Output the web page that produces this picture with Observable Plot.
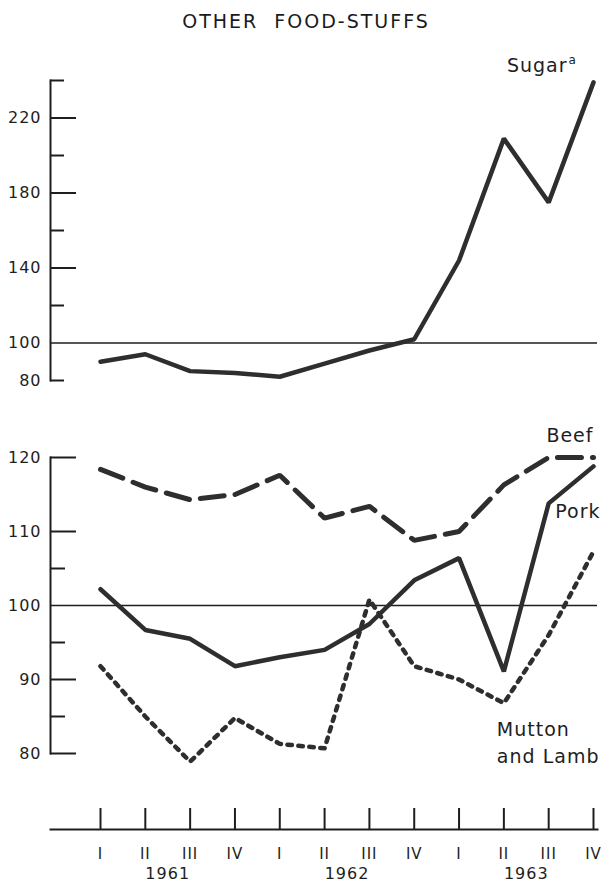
<!DOCTYPE html>
<html><head><meta charset="utf-8">
<script src="https://cdn.jsdelivr.net/npm/d3@7"></script>
<script src="https://cdn.jsdelivr.net/npm/@observablehq/plot@0.6"></script>
<style>
body{margin:0;background:#fff;}
#wrap{position:relative;width:608px;height:884px;font-family:"DejaVu Sans",sans-serif;color:#1a1a1a;overflow:hidden;}
#title{position:absolute;left:0;top:10px;width:612px;text-align:center;font-size:19px;letter-spacing:2px;white-space:pre;}
.panel{position:absolute;left:0;}
.panel svg{overflow:visible;}
</style></head><body>
<div id="wrap"><div id="title">OTHER  FOOD-STUFFS</div></div>
<script>
// ---- data ----
const quarters = ["I","II","III","IV","I","II","III","IV","I","II","III","IV"];
const years = ["1961","1962","1963"];
const sugar  = [90, 94, 85, 84, 82, 89, 96, 102, 144, 209, 175, 239];
const beef   = [118.4, 116.0, 114.3, 115.0, 117.6, 111.8, 113.4, 108.8, 110.0, 116.3, 120.0, 120.0];
const pork   = [102.2, 96.7, 95.5, 91.8, 93.0, 94.0, 97.5, 103.4, 106.4, 91.1, 113.8, 118.8];
const mutton = [91.8, 85.0, 78.9, 84.8, 81.3, 80.7, 100.8, 91.8, 90.0, 86.8, 96.0, 107.3];
const sugarMajorTicks = [220, 180, 140];
const sugarMinorTicks = [240, 200, 160, 120, 80];
const sugarTickLabels = [220, 180, 140, 100, 80];
const meatMajorTicks = [120, 110, 90, 80];
const meatMinorTicks = [105, 95, 85];
const meatTickLabels = [120, 110, 100, 90, 80];

// ---- tables ----
const idx = d3.range(quarters.length);
const rows = arr => idx.map(i => ({i, v: arr[i]}));
const sugarData = rows(sugar), beefData = rows(beef), porkData = rows(pork), muttonData = rows(mutton);
const yearData = years.map((y, k) => ({year: y, i: 4 * k + 1.5}));

const ink = "#1e1e1e", lineInk = "#2e2e2e";
const xScale = {domain: [0, quarters.length - 1], insetLeft: 50, insetRight: 4, axis: null};
const common = {
  width: 608, marginLeft: 50, marginRight: 11,
  style: {fontFamily: "DejaVu Sans, sans-serif", fontSize: "16px", background: "transparent", color: ink, letterSpacing: "1px"}
};
function place(svg, top) {
  const d = document.createElement("div");
  d.className = "panel"; d.style.top = top + "px";
  d.appendChild(svg);
  document.getElementById("wrap").appendChild(d);
}

// ---- top panel: Sugar ----
const topPlot = Plot.plot({
  ...common, height: 340, marginTop: 30, marginBottom: 10,
  x: xScale, y: {domain: [80, 240], axis: null},
  marks: [
    Plot.frame({anchor: "left", stroke: ink, strokeWidth: 2}),
    Plot.ruleY([100], {stroke: ink, strokeWidth: 1.6}),
    Plot.axisY({ticks: sugarMajorTicks, tickSize: -26, fill: "none", stroke: ink, strokeWidth: 2, label: null}),
    Plot.axisY({ticks: sugarMinorTicks, tickSize: -14, fill: "none", stroke: ink, strokeWidth: 2, label: null}),
    Plot.axisY({ticks: sugarTickLabels, tickSize: 0, tickPadding: 9, fill: ink, fontSize: 16, label: null}),
    Plot.line(sugarData, {x: "i", y: "v", stroke: lineInk, strokeWidth: 4.5, strokeLinejoin: "miter"}),
    Plot.text([sugarData[sugarData.length - 1]], {x: "i", y: "v", text: () => "Sugar", textAnchor: "end", dx: -26, dy: -16, fontSize: 19, fill: ink}),
    Plot.text([sugarData[sugarData.length - 1]], {x: "i", y: "v", text: () => "a", textAnchor: "start", dx: -25, dy: -22, fontSize: 12, fill: ink})
  ]
});
place(topPlot, 50);

// ---- bottom panel: Beef, Pork, Mutton and Lamb ----
const last = beefData.length - 1;
const botPlot = Plot.plot({
  ...common, height: 400, marginTop: 67, marginBottom: 37,
  x: xScale, y: {domain: [80, 120], axis: null},
  marks: [
    Plot.frame({anchor: "left", stroke: ink, strokeWidth: 2}),
    Plot.ruleY([100], {stroke: ink, strokeWidth: 1.6}),
    Plot.axisY({ticks: meatMajorTicks, tickSize: -26, fill: "none", stroke: ink, strokeWidth: 2, label: null}),
    Plot.axisY({ticks: meatMinorTicks, tickSize: -15, fill: "none", stroke: ink, strokeWidth: 2, label: null}),
    Plot.axisY({ticks: meatTickLabels, tickSize: 0, tickPadding: 9, fill: ink, fontSize: 16, label: null}),
    Plot.line(beefData, {x: "i", y: "v", stroke: lineInk, strokeWidth: 5, strokeDasharray: "24 11", strokeLinejoin: "miter"}),
    Plot.line(porkData, {x: "i", y: "v", stroke: lineInk, strokeWidth: 4.5, strokeLinejoin: "miter"}),
    Plot.line(muttonData, {x: "i", y: "v", stroke: lineInk, strokeWidth: 4.5, strokeDasharray: "4.5 6.5"}),
    Plot.text([beefData[last]], {x: "i", y: "v", text: () => "Beef", textAnchor: "end", dx: 0, dy: -22, fontSize: 19, fill: ink}),
    Plot.text([porkData[last]], {x: "i", y: "v", text: () => "Pork", textAnchor: "end", dx: 7, dy: 46, fontSize: 19, fill: ink}),
    Plot.text([muttonData[9]], {x: "i", y: "v", text: () => "Mutton\nand Lamb", textAnchor: "start", lineAnchor: "top", lineHeight: 1.42, dx: -7, dy: 14, fontSize: 19, fill: ink})
  ]
});
place(botPlot, 390);

// ---- time axis ----
const axPlot = Plot.plot({
  ...common, height: 94, marginTop: 10, marginBottom: 55,
  x: xScale, y: {axis: null},
  marks: [
    Plot.frame({anchor: "bottom", stroke: ink, strokeWidth: 2}),
    Plot.axisX({ticks: idx, tickSize: -21, fill: "none", stroke: ink, strokeWidth: 2, label: null}),
    Plot.axisX({ticks: idx, tickSize: 0, tickPadding: 19, tickFormat: i => quarters[i], fill: ink, fontSize: 15, label: null}),
    Plot.text(yearData, {x: "i", text: "year", frameAnchor: "bottom", dy: 49, fontSize: 16, fill: ink})
  ]
});
place(axPlot, 790);
</script>
</body></html>
